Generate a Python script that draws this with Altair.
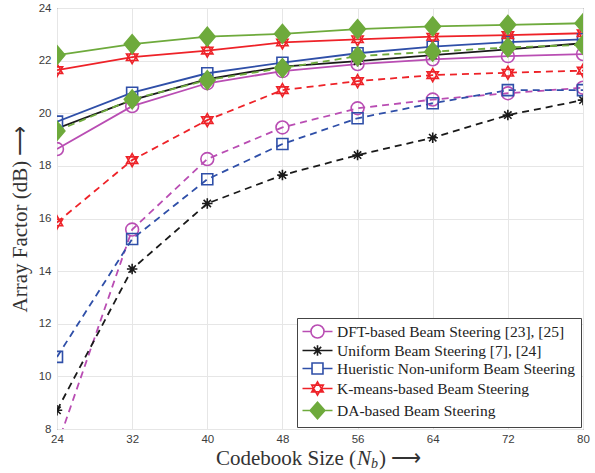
import altair as alt
import pandas as pd

# ---------------- data ----------------
x_vals = [24, 32, 40, 48, 56, 64, 72, 80]
y_ticks = [8, 10, 12, 14, 16, 18, 20, 22, 24]

methods = [
    "DFT-based Beam Steering [23], [25]",
    "Uniform Beam Steering [7], [24]",
    "Hueristic Non-uniform Beam Steering",
    "K-means-based Beam Steering",
    "DA-based Beam Steering",
]

dft_solid = [18.64, 20.27, 21.14, 21.60, 21.87, 22.05, 22.17, 22.25]
dft_dashed = [7.35, 15.58, 18.26, 19.46, 20.19, 20.52, 20.76, 20.97]
uni_solid = [19.42, 20.50, 21.30, 21.77, 21.98, 22.21, 22.43, 22.66]
uni_dashed = [8.71, 14.08, 16.57, 17.65, 18.41, 19.07, 19.93, 20.50]
heu_solid = [19.68, 20.78, 21.52, 21.92, 22.28, 22.53, 22.70, 22.81]
heu_dashed = [10.74, 15.22, 17.49, 18.83, 19.81, 20.38, 20.88, 20.88]
km_solid = [21.64, 22.13, 22.38, 22.69, 22.81, 22.91, 22.97, 23.04]
km_dashed = [15.85, 18.22, 19.74, 20.88, 21.22, 21.45, 21.54, 21.62]
da_solid = [22.21, 22.63, 22.91, 23.02, 23.20, 23.30, 23.36, 23.42]
da_dashed = [19.33, 20.53, 21.26, 21.72, 22.17, 22.34, 22.50, 22.60]

series = {
    methods[0]: (dft_solid, dft_dashed),
    methods[1]: (uni_solid, uni_dashed),
    methods[2]: (heu_solid, heu_dashed),
    methods[3]: (km_solid, km_dashed),
    methods[4]: (da_solid, da_dashed),
}

# ---------------- styles ----------------
colors = ["#B94DB3", "#1A1A1A", "#2F4FA8", "#EE2228", "#6EAA3C"]
legend_fills = ["transparent", "transparent", "transparent", "transparent", "#6EAA3C"]

plot_shapes = [
    ("circle", 165),
    ("M-1,0L1,0M0,-1L0,1M-0.7,-0.7L0.7,0.7M-0.7,0.7L0.7,-0.7", 110),
    ("square", 121),
    ("M0,-1L0.866,0.5L-0.866,0.5ZM0,1L0.866,-0.5L-0.866,-0.5Z", 169),
    ("M-0.84,0L0,-1L0.84,0L0,1Z", 350),
]
# legend symbols: line + marker, unit = sqrt(size)/2 px
legend_paths = [
    "M-2,0L-0.87,0M0.87,0L2,0M-0.87,0A0.87,0.87,0,1,1,0.87,0A0.87,0.87,0,1,1,-0.87,0Z",
    "M-2,0L2,0M0,-0.69L0,0.69M-0.49,-0.49L0.49,0.49M-0.49,0.49L0.49,-0.49",
    "M-2,0L-0.73,0M0.73,0L2,0M-0.73,-0.73L0.73,-0.73L0.73,0.73L-0.73,0.73Z",
    "M-2,0L-0.6,0M0.6,0L2,0M0,-0.89L0.77,0.445L-0.77,0.445ZM0,0.89L0.77,-0.445L-0.77,-0.445Z",
    "M-2,0L-0.98,0M0.98,0L2,0M-0.98,0L0,-1.1L0.98,0L0,1.1Z",
]

rows = []
for m, (s, d) in series.items():
    for xv, yv in zip(x_vals, s):
        rows.append({"method": m, "style": "solid", "x": xv, "y": yv})
    for xv, yv in zip(x_vals, d):
        rows.append({"method": m, "style": "dashed", "x": xv, "y": yv})
df = pd.DataFrame(rows)

X = alt.X(
    "x:Q",
    scale=alt.Scale(domain=[24, 80], nice=False, zero=False),
    axis=alt.Axis(
        values=x_vals, title=None, grid=True, gridColor="#e6e6e6", domain=False,
        ticks=False, labelFont="Liberation Sans", labelFontSize=11.5,
        labelColor="#3c3c3c", labelPadding=4, labelFlush=False,
    ),
)
Y = alt.Y(
    "y:Q",
    scale=alt.Scale(domain=[8, 24], nice=False, zero=False),
    axis=alt.Axis(
        values=y_ticks, title="Array Factor (dB)  \u27f6", grid=True,
        gridColor="#e6e6e6", domain=False, ticks=False,
        labelFont="Liberation Sans", labelFontSize=11.5, labelColor="#3c3c3c",
        labelPadding=6, labelFlush=False, titleFont="Liberation Serif",
        titleFontSize=21, titleFontWeight="normal", titleColor="#333333",
        titlePadding=8,
    ),
)

base = alt.Chart(df)
layers = []
for i, m in enumerate(methods):
    sub = base.transform_filter(alt.datum.method == m)
    layers.append(
        sub.transform_filter(alt.datum.style == "solid").mark_line(
            strokeWidth=1.8, clip=True, stroke=colors[i]
        ).encode(x=X, y=Y)
    )
    layers.append(
        sub.transform_filter(alt.datum.style == "dashed").mark_line(
            strokeWidth=1.8, strokeDash=[7, 5], clip=True, stroke=colors[i]
        ).encode(x=X, y=Y)
    )

for i, m in enumerate(methods):
    shp, sz = plot_shapes[i]
    fill = colors[i] if i == 4 else "transparent"
    layers.append(
        base.transform_filter(alt.datum.method == m).mark_point(
            shape=shp, size=sz, strokeWidth=1.6, stroke=colors[i], fill=fill,
            opacity=1, filled=False, clip=True,
        ).encode(x=X, y=Y)
    )

# legend-only layer (points outside the y domain, clipped away)
leg_df = pd.DataFrame({"method": methods, "x": [24] * 5, "y": [0] * 5})
legend_layer = alt.Chart(leg_df).mark_point(
    size=225, strokeWidth=1.6, opacity=1, filled=False, clip=True
).encode(
    x=X, y=Y,
    stroke=alt.Stroke("method:N", scale=alt.Scale(domain=methods, range=colors),
                      legend=alt.Legend(title=None)),
    fill=alt.Fill("method:N", scale=alt.Scale(domain=methods, range=legend_fills),
                  legend=alt.Legend(title=None)),
    shape=alt.Shape("method:N", scale=alt.Scale(domain=methods, range=legend_paths),
                    legend=alt.Legend(title=None)),
)
layers.append(legend_layer)

# x-axis title with subscript
tdf = pd.DataFrame({"t": [0]})
title_font = "Liberation Serif"
X0 = 299
TY = 451
layers.append(alt.Chart(tdf).mark_text(
    text="Codebook Size (", font=title_font, fontSize=21, align="right",
    baseline="middle", color="#333333"
).encode(x=alt.value(X0), y=alt.value(TY)))
layers.append(alt.Chart(tdf).mark_text(
    text="N", font=title_font, fontSize=21, fontStyle="italic", align="left",
    baseline="middle", color="#333333"
).encode(x=alt.value(X0 + 1), y=alt.value(TY)))
layers.append(alt.Chart(tdf).mark_text(
    text="b", font=title_font, fontSize=14, fontStyle="italic", align="left",
    baseline="middle", color="#333333"
).encode(x=alt.value(X0 + 15), y=alt.value(TY + 5)))
layers.append(alt.Chart(tdf).mark_text(
    text=")  \u27f6", font=title_font, fontSize=21, align="left",
    baseline="middle", color="#333333"
).encode(x=alt.value(X0 + 23), y=alt.value(TY)))

chart = alt.layer(*layers).properties(
    width=526, height=421,
    autosize=alt.AutoSizeParams(type="none"),
    padding={"left": 57, "top": 8, "right": 12, "bottom": 44},
).configure_view(
    stroke="#444444", strokeWidth=1
).configure_legend(
    orient="bottom-right", offset=2, padding=5, strokeColor="#444444",
    fillColor="white", labelFont="Liberation Serif", labelFontSize=15.5,
    labelColor="#222222", labelLimit=500, symbolSize=225, symbolStrokeWidth=1.6,
    rowPadding=0, labelOffset=11, symbolOffset=7, cornerRadius=0,
)

chart.save("out.html", embed_options={"renderer": "svg", "actions": False})
